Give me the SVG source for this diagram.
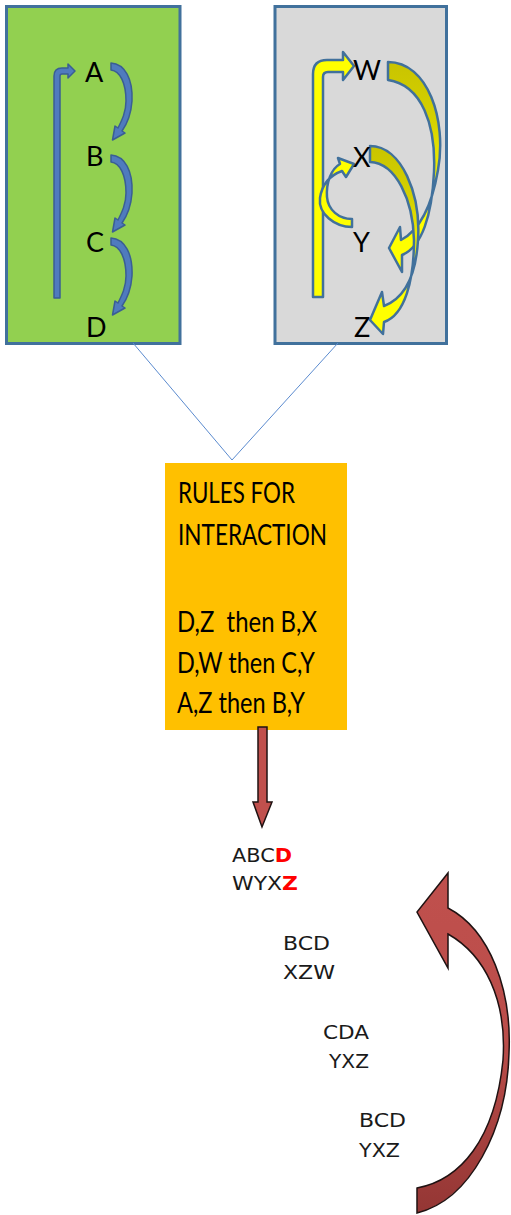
<svg xmlns="http://www.w3.org/2000/svg" width="511" height="1215" viewBox="0 0 511 1215">
  <style>
    .panel { stroke: #41719C; stroke-width: 3; }
    .letter { font-family: Lato, "Open Sans", "Liberation Sans", sans-serif; font-size: 27px; fill: #000; }
    .rule { font-family: Lato, "Open Sans", "Liberation Sans", sans-serif; font-size: 28px; fill: #000; }
    .seq { font-family: "DejaVu Sans", Verdana, sans-serif; font-size: 19px; fill: #1a1a1a; }
    .hot { fill: #FF0000; font-weight: bold; }
    .blue-arrow { fill: #4F7BBE; stroke: #3A5E94; stroke-width: 1.5; stroke-linejoin: round; }
    .yellow-arrow { stroke: #41719C; stroke-width: 2.5; stroke-linejoin: round; }
    .link { fill: none; stroke: #5B8BCF; stroke-width: 1; }
    .red-arrow { stroke: #1f1212; stroke-width: 1.5; stroke-linejoin: miter; }
  </style>
  <defs>
    <!-- short curved step arrow, local origin at the tail top -->
    <path id="stepCurve" d="M0,0 C14,1 22,16 21,38 C20,52 16,61 11,68 L14,70 L1.5,77 L4,63 L7,65 C11,57 15,49 15,38 C15,20 9,8 0,7 Z"/>
    <linearGradient id="yellowW" gradientUnits="userSpaceOnUse" x1="0" y1="62" x2="0" y2="200">
      <stop offset="0" stop-color="#C9C400"/>
      <stop offset="0.45" stop-color="#D6D200"/>
      <stop offset="1" stop-color="#FFFF00"/>
    </linearGradient>
    <linearGradient id="yellowX" gradientUnits="userSpaceOnUse" x1="0" y1="146" x2="0" y2="270">
      <stop offset="0" stop-color="#C9C400"/>
      <stop offset="0.45" stop-color="#D6D200"/>
      <stop offset="1" stop-color="#FFFF00"/>
    </linearGradient>
    <linearGradient id="returnFill" gradientUnits="userSpaceOnUse" x1="0" y1="870" x2="0" y2="1213">
      <stop offset="0" stop-color="#C0504D"/>
      <stop offset="0.5" stop-color="#BA4D4A"/>
      <stop offset="1" stop-color="#943634"/>
    </linearGradient>
  </defs>

  <!-- left cycle: A B C D -->
  <g id="cycle-abcd">
    <rect class="panel" x="6.5" y="6.5" width="173.5" height="337" fill="#92D050"/>
    <path class="blue-arrow" d="M54,298 L54,76 Q54,68 62,68 L68,68 L68,64 L75,71 L68,78 L68,74 L62,74 Q60,74 60,76 L60,298 Z"/>
    <use href="#stepCurve" class="blue-arrow" transform="translate(111,63)"/>
    <use href="#stepCurve" class="blue-arrow" transform="translate(111,155)"/>
    <use href="#stepCurve" class="blue-arrow" transform="translate(111,238)"/>
    <text class="letter" x="85" y="82">A</text>
    <text class="letter" x="86" y="166">B</text>
    <text class="letter" x="86" y="252">C</text>
    <text class="letter" x="86" y="337">D</text>
  </g>

  <!-- right cycle: W X Y Z -->
  <g id="cycle-wxyz">
    <rect class="panel" x="275" y="6.5" width="171.5" height="337" fill="#D9D9D9"/>
    <path class="yellow-arrow" fill="#FFFF00" d="M313,297 L313,74 Q313,60 327,60 L343,60 L343,52 L354,66 L343,80 L343,72 L328,72 Q323,72 323,77 L323,297 Z"/>
    <path class="yellow-arrow" fill="#FFFF00" d="M352,227 C335,227 318,214 320,198 C322,184 331,175 342,171 L346,177 L354,164 L338,158 L340,164 C331,169 326,183 327,197 C328,210 339,219 352,219 Z"/>
    <path class="yellow-arrow" fill="url(#yellowW)" d="M388,62 C428,62 447,120 438,170 C432,205 420,230 401,240 L400,227 L389,248 L402,272 L402,255 C422,247 432,215 434,172 C436,125 422,85 388,80 Z"/>
    <path class="yellow-arrow" fill="url(#yellowX)" d="M370,146 C402,146 421,195 418,240 C416,275 405,298 384,306 L382,292 L370,320 L383,334 L384,322 C405,315 414,280 414,240 C413,200 396,163 370,162 Z"/>
    <text class="letter" x="353" y="80">W</text>
    <text class="letter" x="353" y="167">X</text>
    <text class="letter" x="353" y="252">Y</text>
    <text class="letter" x="354" y="337">Z</text>
  </g>

  <!-- rule box -->
  <g id="rules">
    <rect x="165" y="463" width="182" height="267" fill="#FFC000"/>
    <text class="rule" x="178" y="503" textLength="117" lengthAdjust="spacingAndGlyphs">RULES FOR</text>
    <text class="rule" x="178" y="545" textLength="149" lengthAdjust="spacingAndGlyphs">INTERACTION</text>
    <text class="rule" x="177" y="632" textLength="140" lengthAdjust="spacingAndGlyphs" xml:space="preserve">D,Z  then B,X</text>
    <text class="rule" x="177" y="673" textLength="138" lengthAdjust="spacingAndGlyphs">D,W then C,Y</text>
    <text class="rule" x="177" y="713" textLength="128" lengthAdjust="spacingAndGlyphs">A,Z then B,Y</text>
  </g>

  <!-- state sequence -->
  <g id="state-1">
    <text class="seq" x="232" y="862" textLength="60" lengthAdjust="spacingAndGlyphs">ABC<tspan class="hot">D</tspan></text>
    <text class="seq" x="232" y="890" textLength="66" lengthAdjust="spacingAndGlyphs">WYX<tspan class="hot">Z</tspan></text>
  </g>
  <g id="state-2">
    <text class="seq" x="283" y="950" textLength="47" lengthAdjust="spacingAndGlyphs">BCD</text>
    <text class="seq" x="283" y="979" textLength="52" lengthAdjust="spacingAndGlyphs">XZW</text>
  </g>
  <g id="state-3">
    <text class="seq" x="323" y="1039" textLength="46" lengthAdjust="spacingAndGlyphs">CDA</text>
    <text class="seq" x="329" y="1068" textLength="40" lengthAdjust="spacingAndGlyphs">YXZ</text>
  </g>
  <g id="state-4">
    <text class="seq" x="359" y="1127" textLength="47" lengthAdjust="spacingAndGlyphs">BCD</text>
    <text class="seq" x="359" y="1157" textLength="41" lengthAdjust="spacingAndGlyphs">YXZ</text>
  </g>

  <!-- connectors -->
  <g id="connectors">
    <path class="link" d="M133,343 L232,460 L338,343"/>
    <path class="red-arrow" fill="#C0504D" d="M258,727 L267,727 L267,802 L272,802 L262,827 L253,802 L258,802 Z"/>
    <path class="red-arrow" fill="url(#returnFill)" d="M448,908 C490,930 512,990 509,1053 C507,1130 470,1200 417,1213 L417,1188 C460,1180 495,1140 503,1060 C507,1000 485,955 448,934 L448,968 L417,912 L448,873 Z"/>
  </g>
</svg>
